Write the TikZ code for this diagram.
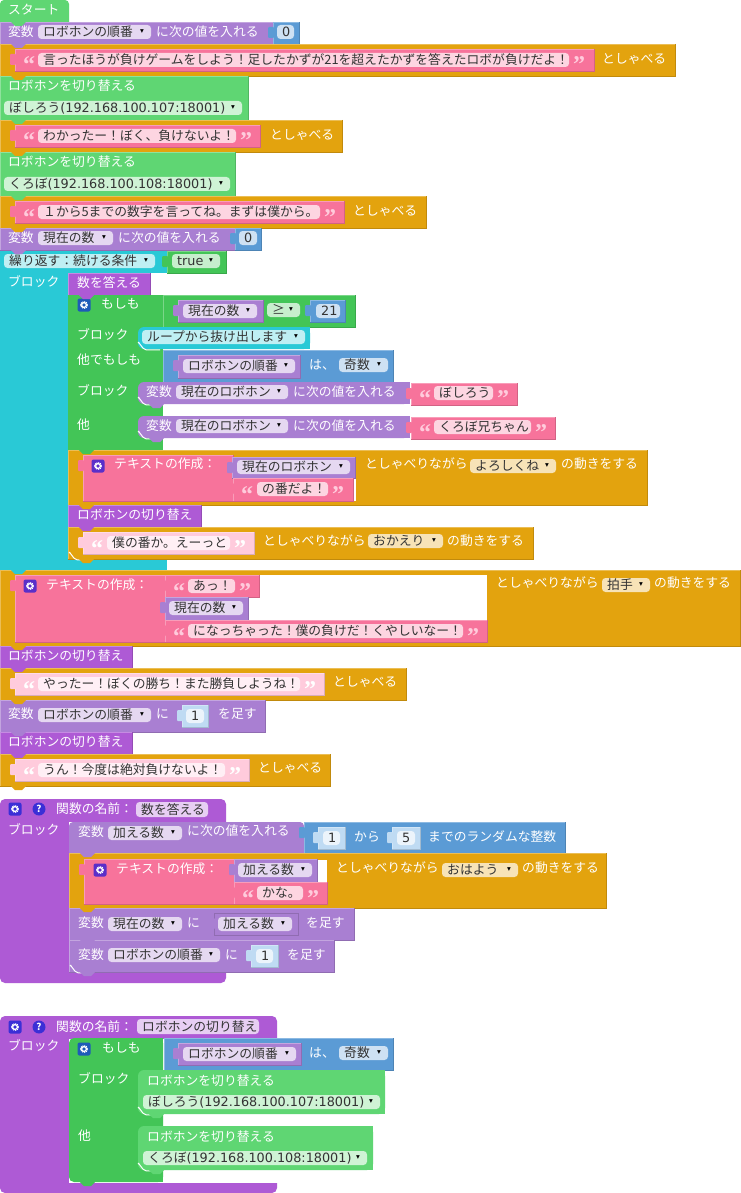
\documentclass[tikz,border=0pt]{standalone}
\usepackage{fontspec}
\setmainfont{Noto Sans CJK JP}
\newfontfamily\qfont{Liberation Serif}[BoldFont={Liberation Serif Bold}]
\newfontfamily\symfont{DejaVu Sans}
\definecolor{cgo}{HTML}{5FD673}
\definecolor{cvar}{HTML}{A97FD2}
\definecolor{cor}{HTML}{E3A30E}
\definecolor{cpk}{HTML}{F7739B}
\definecolor{cpale}{HTML}{FFCBDC}
\definecolor{cteal}{HTML}{29C9D6}
\definecolor{cpro}{HTML}{AE5AD5}
\definecolor{cif}{HTML}{43C557}
\definecolor{cbl}{HTML}{5B9BD5}
\definecolor{cnum}{HTML}{BFDBF3}
\definecolor{cink}{HTML}{333333}
\definecolor{cgif}{HTML}{1E5BB8}
\definecolor{cgtxt}{HTML}{5A2FC9}
\definecolor{cgfn}{HTML}{3B2FD6}
\newcount\nn
\newcommand\nx{\global\advance\nn by 1 }
\newcommand\ip[1]{{\symfont\fontsize{12.8}{14}\selectfont #1}}
\tikzset{
 lab/.style={anchor=base west,inner sep=0pt,text=white,font=\fontsize{12.8}{14}\selectfont},
 fldt/.style={anchor=base west,inner sep=0pt,text=cink,font=\fontsize{12.8}{14}\selectfont},
 arrowt/.style={inner sep=0pt,text=black,font=\symfont\fontsize{7.5}{8}\selectfont},
 qt/.style={anchor=base west,inner sep=0pt,font=\qfont\bfseries\fontsize{24}{24}\selectfont},
}
\newcommand\blk[5]{\fill[#1] (#2,#3) rectangle (#4,#5);
 \draw[#1!70!white,line width=.6] (#2,#5)--(#2,#3)--(#4,#3);
 \draw[#1!85!black,line width=.6] (#4,#3)--(#4,#5)--(#2,#5);}
\newcommand\rblk[5]{\fill[#1,rounded corners=6] (#2,#3) rectangle (#4,#5);
 \fill[#1] (#2+12,#3) rectangle (#4,#5);}
\newcommand\wcurve[2]{\draw[white,line width=1] (#1,#2-6) to[out=90,in=180] (#1+8,#2+.8) -- (#1+22,#2+.8);}
\newcommand\lbl[3]{\nx\node[lab] (n\the\nn) at (#1,#2+4.6) {#3};}
\newcommand\fd[5]{\fill[#1!30!white,rounded corners=3.5] (#2,#4-7) rectangle (#3,#4+7);
 \nx\node[fldt] (n\the\nn) at (#2+5,#4+4.6) {#5};}
\newcommand\fdd[5]{\fd{#1}{#2}{#3}{#4}{#5}\nx\node[arrowt] (n\the\nn) at (#3-9,#4) {▾};}
\newcommand\ptab[3]{\fill[#1,rounded corners=1] (#2-5,#3+5) rectangle (#2+1,#3+16);}
\newcommand\ntab[3]{\fill[#1,line join=round] (#2+11,#3) -- (#2+15,#3+4) -- (#2+22,#3+4) -- (#2+26,#3) -- cycle;}
\newcommand\qo[3]{\nx\node[qt,text=#3] (n\the\nn) at (#1,#2+13) {“};}
\newcommand\qc[3]{\nx\node[qt,text=#3] (n\the\nn) at (#1,#2+13) {”};}
\newcommand\gear[3]{\fill[#1,rounded corners=2] (#2-6.5,#3-6.5) rectangle (#2+6.5,#3+6.5);
 \draw[white,line width=1.6,dash pattern=on 1.1pt off .7pt] (#2,#3) circle (3.1);
 \draw[white,line width=1.1] (#2,#3) circle (2.3);}
\newcommand\helpic[2]{\fill[cgfn] (#1,#2) circle (6.5);
 \nx\node[inner sep=0pt,text=white,font=\bfseries\fontsize{9.5}{10}\selectfont] (n\the\nn) at (#1,#2) {?};}
\begin{document}
\begin{tikzpicture}[x=1pt,y=-1pt]
\useasboundingbox (0,0) rectangle (740,1193);
\fill[white] (0,0) rectangle (740,1193);
% start
\fill[cgo,rounded corners=4] (0,0) rectangle (69,26);
\lbl{8}{10}{スタート}
% var robohon
\blk{cvar}{0}{22}{273}{44}
\lbl{8}{32}{変数}\fdd{cvar}{38}{151}{32}{ロボホンの順番}\lbl{156}{32}{に次の値を入れる}
\blk{cbl}{273}{22}{299}{44}\ptab{cbl}{273}{22}\fd{cbl}{277}{294}{32}{\ip{0}}
% say 1
\blk{cor}{0}{44}{675}{76}
\blk{cpk}{15}{49}{594}{71}\ptab{cpk}{15}{49}
\qo{23}{60}{cpale}\fd{cpk}{38}{569}{60}{言ったほうが負けゲームをしよう！足したかずが21を超えたかずを答えたロボが負けだよ！}\qc{573}{60}{cpale}
\lbl{602}{59}{としゃべる}
% switch
\blk{cgo}{0}{76}{248}{120}
\lbl{8}{86}{ロボホンを切り替える}
\fdd{cgo}{4}{242}{108}{ぼしろう\ip{(192.168.100.107:18001)}}
\blk{cor}{0}{120}{342}{152}
\blk{cpk}{15}{125}{260}{147}\ptab{cpk}{15}{125}
\qo{23}{136}{cpale}\fd{cpk}{38}{236}{136}{わかったー！ぼく、負けないよ！}\qc{240}{136}{cpale}
\lbl{270}{135}{としゃべる}
\blk{cgo}{0}{152}{235}{196}
\lbl{8}{162}{ロボホンを切り替える}
\fdd{cgo}{4}{230}{184}{くろぼ\ip{(192.168.100.108:18001)}}
\blk{cor}{0}{196}{426}{228}
\blk{cpk}{15}{201}{344}{223}\ptab{cpk}{15}{201}
\qo{23}{212}{cpale}\fd{cpk}{38}{320}{212}{１から5までの数字を言ってね。まずは僕から。}\qc{324}{212}{cpale}
\lbl{353}{211}{としゃべる}
% var current
\blk{cvar}{0}{228}{235}{250}
\lbl{8}{238}{変数}\fdd{cvar}{38}{113}{238}{現在の数}\lbl{118}{238}{に次の値を入れる}
\blk{cbl}{235}{228}{261}{250}\ptab{cbl}{235}{228}\fd{cbl}{239}{257}{238}{\ip{0}}
% while
\fill[cteal] (0,251) rectangle (68,570);
\fill[cteal] (0,251) rectangle (167,273);
\fill[cteal] (0,560) rectangle (167,570);
\fdd{cteal}{4}{155}{261}{繰り返す：続ける条件}
\blk{cif}{167}{251}{226}{273}\ptab{cif}{167}{251}\fdd{cif}{172}{220}{261}{\ip{true}}
\lbl{8}{282}{ブロック}
\blk{cpro}{68}{273}{150}{295}
\lbl{77}{283}{数を答える}
% if block
\fill[cif] (68,295) rectangle (163,450);
\blk{cif}{163}{295}{355}{327}
\gear{cgif}{84}{305}
\lbl{101}{304}{もしも}
\blk{cvar}{178}{300}{263}{322}\ptab{cvar}{178}{300}\fdd{cvar}{183}{257}{311}{現在の数}
\fdd{cif}{267}{300}{310}{≥}
\blk{cbl}{310}{300}{345}{322}\ptab{cbl}{310}{300}\fd{cbl}{316}{340}{311}{\ip{21}}
\lbl{77}{335}{ブロック}
\rblk{cteal}{138}{327}{310}{349}\fdd{cteal}{142}{305}{337}{ループから抜け出します}\wcurve{138}{349}
\lbl{77}{360}{他でもしも}
\blk{cbl}{163}{350}{393}{382}
\blk{cvar}{178}{355}{300}{378}\ptab{cvar}{178}{355}\fdd{cvar}{183}{295}{366}{ロボホンの順番}
\lbl{309}{365}{は、}\fdd{cbl}{339}{388}{365}{奇数}
\lbl{77}{391}{ブロック}
\rblk{cvar}{138}{382}{410}{404}\wcurve{138}{404}
\lbl{146}{392}{変数}\fdd{cvar}{176}{288}{392}{現在のロボホン}\lbl{293}{392}{に次の値を入れる}
\blk{cpk}{411}{383}{517}{405}\ptab{cpk}{411}{383}
\qo{419}{393}{cpale}\fd{cpk}{434}{493}{393}{ぼしろう}\qc{497}{393}{cpale}
\lbl{77}{425}{他}
\rblk{cvar}{138}{416}{410}{438}\wcurve{138}{438}
\lbl{146}{426}{変数}\fdd{cvar}{176}{288}{426}{現在のロボホン}\lbl{293}{426}{に次の値を入れる}
\blk{cpk}{411}{417}{555}{439}\ptab{cpk}{411}{417}
\qo{419}{427}{cpale}\fd{cpk}{434}{531}{427}{くろぼ兄ちゃん}\qc{535}{427}{cpale}
% text compose 1
\blk{cor}{68}{450}{647}{505}
\fill[white] (353.5,478) rectangle (356,501);
\blk{cpk}{83}{455}{233}{501}\ptab{cpk}{83}{455}
\gear{cgtxt}{98}{466}
\lbl{114}{464}{テキストの作成：}
\blk{cvar}{232}{457}{355}{478}\ptab{cvar}{232}{457}\fdd{cvar}{237}{350}{467}{現在のロボホン}
\blk{cpk}{233}{478}{353}{501}\ptab{cpk}{233}{478}
\qo{241}{489}{cpale}\fd{cpk}{257}{328}{489}{の番だよ！}\qc{332}{489}{cpale}
\lbl{365}{464}{としゃべりながら}\fdd{cor}{470}{556}{466}{よろしくね}\lbl{561}{464}{の動きをする}
% switch call
\blk{cpro}{68}{505}{201}{527}
\lbl{77}{515}{ロボホンの切り替え}
\blk{cor}{68}{527}{533}{559}
\blk{cpale}{83}{532}{254}{554}\ptab{cpale}{83}{532}
\qo{91}{543}{white}\fd{cpale}{107}{230}{543}{僕の番か。えーっと}\qc{234}{543}{white}
\lbl{263}{541}{としゃべりながら}\fdd{cor}{368}{443}{541}{おかえり}\lbl{447}{541}{の動きをする}
\wcurve{69}{559}
% text compose 2
\blk{cor}{0}{570}{740}{646}
\fill[white] (165,575) rectangle (487,620);
\blk{cpk}{15}{575}{165}{642}\ptab{cpk}{15}{575}
\gear{cgtxt}{30}{586}
\lbl{46}{585}{テキストの作成：}
\blk{cpk}{165}{575}{259}{597}\ptab{cpk}{165}{575}
\qo{173}{586}{cpale}\fd{cpk}{188}{235}{586}{あっ！}\qc{239}{586}{cpale}
\blk{cvar}{165}{597}{248}{620}\ptab{cvar}{165}{597}\fdd{cvar}{169}{243}{608}{現在の数}
\blk{cpk}{165}{620}{487}{642}\ptab{cpk}{165}{620}
\qo{173}{631}{cpale}\fd{cpk}{188}{463}{631}{になっちゃった！僕の負けだ！くやしいなー！}\qc{467}{631}{cpale}
\lbl{496}{583}{としゃべりながら}\fdd{cor}{602}{650}{585}{拍手}\lbl{654}{583}{の動きをする}
% end part
\blk{cpro}{0}{646}{132}{668}
\lbl{8}{656}{ロボホンの切り替え}
\blk{cor}{0}{668}{406}{700}
\blk{cpale}{15}{673}{324}{695}\ptab{cpale}{15}{673}
\qo{23}{684}{white}\fd{cpale}{38}{300}{684}{やったー！ぼくの勝ち！また勝負しようね！}\qc{304}{684}{white}
\lbl{333}{682}{としゃべる}
\blk{cvar}{0}{700}{265}{732}
\lbl{8}{714}{変数}\fdd{cvar}{38}{151}{715}{ロボホンの順番}\lbl{156}{714}{に}
\blk{cnum}{182}{705}{208}{727}\ptab{cnum}{182}{705}\fd{cnum}{186}{204}{716}{\ip{1}}
\lbl{218}{714}{を足す}
\blk{cpro}{0}{732}{132}{754}
\lbl{8}{742}{ロボホンの切り替え}
\blk{cor}{0}{754}{330}{786}
\blk{cpale}{15}{759}{249}{781}\ptab{cpale}{15}{759}
\qo{23}{770}{white}\fd{cpale}{38}{225}{770}{うん！今度は絶対負けないよ！}\qc{229}{770}{white}
\lbl{258}{768}{としゃべる}
% function 1
\fill[cpro,rounded corners=5] (0,799) rectangle (226,983);
\fill[white] (69,821.5) rectangle (227,972);
\gear{cgfn}{15}{809}\helpic{39}{809}
\lbl{56}{809}{関数の名前：}
\fill[cpro!30!white,rounded corners=3.5] (136,802) rectangle (208,817);
\node[fldt] (fn1) at (141,814) {数を答える};
\lbl{8}{830}{ブロック}
\fill[cvar,rounded corners=4] (69,822) rectangle (304,860);
\lbl{78}{832}{変数}\fdd{cvar}{108}{182}{833}{加える数}\lbl{187}{831}{に次の値を入れる}
\blk{cbl}{304}{822}{565}{853}\ptab{cbl}{304}{822}
\blk{cnum}{318}{827}{345}{849}\ptab{cnum}{318}{827}\fd{cnum}{323}{340}{838}{\ip{1}}
\lbl{354}{837}{から}
\blk{cnum}{392}{827}{420}{849}\ptab{cnum}{392}{827}\fd{cnum}{397}{415}{838}{\ip{5}}
\lbl{428}{837}{までのランダムな整数}
\blk{cor}{69}{853}{606}{908}
\fill[white] (317,860) rectangle (327,882);
\blk{cpk}{84}{859}{234}{904}\ptab{cpk}{84}{859}
\gear{cgtxt}{100}{870}
\lbl{116}{869}{テキストの作成：}
\blk{cvar}{234}{859}{317}{882}\ptab{cvar}{234}{859}\fdd{cvar}{238}{312}{870}{加える数}
\blk{cpk}{234}{882}{327}{904}\ptab{cpk}{234}{882}
\qo{242}{893}{cpale}\fd{cpk}{257}{303}{893}{かな。}\qc{307}{893}{cpale}
\lbl{336}{868}{としゃべりながら}\fdd{cor}{442}{518}{870}{おはよう}\lbl{522}{868}{の動きをする}
\blk{cvar}{69}{908}{354}{940}
\lbl{78}{923}{変数}\fdd{cvar}{108}{182}{924}{現在の数}\lbl{187}{923}{に}
\draw[cvar!85!black,fill=cvar,line width=.6] (214,913) rectangle (298,935);\ptab{cvar}{214}{913}\fdd{cvar}{218}{292}{924}{加える数}
\lbl{306}{923}{を足す}
\blk{cvar}{69}{940}{334}{972}
\lbl{78}{955}{変数}\fdd{cvar}{108}{220}{955}{ロボホンの順番}\lbl{225}{955}{に}
\blk{cnum}{251}{945}{278}{967}\ptab{cnum}{251}{945}\fd{cnum}{256}{273}{956}{\ip{1}}
\lbl{287}{955}{を足す}
\wcurve{70}{972}
% function 2
\fill[cpro,rounded corners=5] (0,1016) rectangle (277,1193);
\fill[white] (69,1038.5) rectangle (278,1183);
\gear{cgfn}{15}{1027}\helpic{39}{1027}
\lbl{56}{1027}{関数の名前：}
\fill[cpro!30!white,rounded corners=3.5] (137,1019) rectangle (259,1034);
\node[fldt] (fn2) at (142,1031.6) {ロボホンの切り替え};
\lbl{8}{1046}{ブロック}
\fill[cif,rounded corners=5] (69,1038) rectangle (163,1182);
\fill[cif] (100,1038) rectangle (163,1182);
\gear{cgif}{84}{1049}
\lbl{102}{1048}{もしも}
\blk{cbl}{164}{1038}{393}{1070}
\blk{cvar}{178}{1043}{301}{1065}\ptab{cvar}{178}{1043}\fdd{cvar}{183}{296}{1054}{ロボホンの順番}
\lbl{309}{1053}{は、}\fdd{cbl}{339}{388}{1053}{奇数}
\lbl{78}{1079}{ブロック}
\rblk{cgo}{138}{1070}{385}{1114}\wcurve{138}{1114}
\lbl{147}{1081}{ロボホンを切り替える}
\fdd{cgo}{143}{380}{1102}{ぼしろう\ip{(192.168.100.107:18001)}}
\lbl{78}{1136}{他}
\rblk{cgo}{138}{1126}{373}{1170}\wcurve{138}{1170}
\lbl{147}{1137}{ロボホンを切り替える}
\fdd{cgo}{143}{367}{1158}{くろぼ\ip{(192.168.100.108:18001)}}
% connector tabs
\ntab{cgo}{0}{22}\ntab{cvar}{0}{44}\ntab{cor}{0}{76}\ntab{cgo}{0}{120}\ntab{cor}{0}{152}\ntab{cgo}{0}{196}\ntab{cor}{0}{228}\ntab{cvar}{0}{250}
\ntab{cpro}{68}{295}\ntab{cif}{68}{450}\ntab{cor}{68}{505}\ntab{cpro}{68}{527}\ntab{cor}{68}{559}
\ntab{cteal}{0}{570}\ntab{cor}{0}{646}\ntab{cpro}{0}{668}\ntab{cor}{0}{700}\ntab{cvar}{0}{732}\ntab{cpro}{0}{754}\ntab{cor}{0}{786}
\ntab{cvar}{69}{853}\ntab{cor}{69}{908}\ntab{cvar}{69}{940}\ntab{cvar}{69}{972}
\ntab{cgo}{138}{1114}\ntab{cgo}{138}{1170}\ntab{cif}{69}{1182}\ntab{cvar}{138}{404}\ntab{cvar}{138}{438}
\end{tikzpicture}
\end{document}
